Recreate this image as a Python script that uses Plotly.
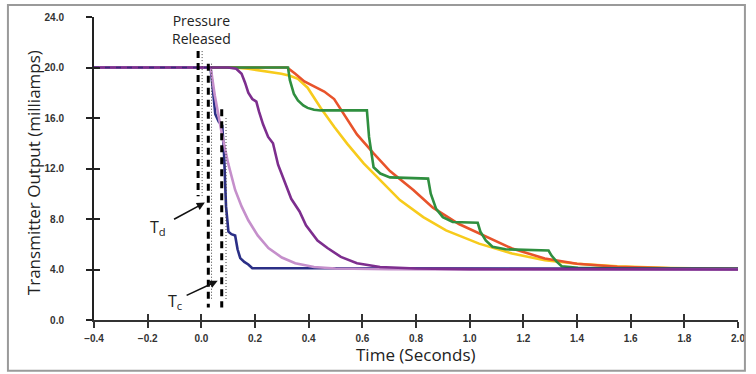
import plotly.graph_objects as go

# ---- data ----
blue_t = [-0.4, 0.034, 0.042, 0.052, 0.065, 0.078, 0.085, 0.092, 0.101, 0.112, 0.126, 0.135, 0.145, 0.16, 0.175, 0.19, 0.4, 1.0, 2.0]
blue_v = [20.0, 20.0, 18.5, 16.3, 15.7, 15.4, 13.0, 9.0, 7.0, 6.8, 6.7, 5.6, 4.9, 4.6, 4.4, 4.1, 4.1, 4.08, 4.05]

lpur_t = [-0.4, 0.035, 0.05, 0.077, 0.1, 0.126, 0.15, 0.175, 0.21, 0.25, 0.3, 0.35, 0.42, 0.5, 0.7, 1.0, 2.0]
lpur_v = [20.0, 20.0, 17.8, 14.7, 12.4, 10.3, 9.0, 7.9, 6.7, 5.7, 4.95, 4.5, 4.2, 4.08, 4.02, 4.0, 4.0]

dpur_t = [-0.4, 0.1, 0.13, 0.15, 0.163, 0.175, 0.19, 0.205, 0.215, 0.23, 0.249, 0.267, 0.286, 0.31, 0.335, 0.366, 0.39, 0.433, 0.47, 0.52, 0.58, 0.666, 0.8, 1.0, 2.0]
dpur_v = [20.0, 20.0, 19.9, 19.5, 18.8, 18.0, 17.5, 17.3, 16.5, 15.5, 14.5, 14.0, 12.3, 11.0, 9.6, 8.6, 7.5, 6.3, 5.7, 5.0, 4.5, 4.2, 4.08, 4.03, 4.0]

orng_t = [-0.4, 0.32, 0.35, 0.384, 0.42, 0.458, 0.495, 0.532, 0.58, 0.642, 0.703, 0.79, 0.863, 0.96, 1.06, 1.158, 1.28, 1.4, 1.55, 1.75, 2.0]
orng_v = [20.0, 20.0, 19.5, 18.9, 18.5, 18.1, 17.5, 16.3, 14.7, 13.2, 11.8, 10.3, 8.9, 7.6, 6.6, 5.66, 4.87, 4.45, 4.22, 4.1, 4.05]

yell_t = [-0.4, 0.12, 0.175, 0.24, 0.298, 0.33, 0.36, 0.396, 0.445, 0.495, 0.544, 0.605, 0.667, 0.74, 0.827, 0.912, 1.035, 1.158, 1.28, 1.4, 1.55, 1.75, 2.0]
yell_v = [20.0, 20.0, 19.9, 19.7, 19.5, 19.35, 19.1, 18.4, 16.8, 15.3, 13.95, 12.4, 11.05, 9.5, 8.15, 7.1, 6.05, 5.26, 4.74, 4.45, 4.25, 4.12, 4.05]

gren_t = [-0.4, 0.323, 0.33, 0.345, 0.36, 0.38, 0.396, 0.42, 0.445, 0.617, 0.625, 0.642, 0.667, 0.703, 0.845, 0.855, 0.875, 0.9, 0.937, 1.03, 1.04, 1.06, 1.085, 1.134, 1.294, 1.305, 1.325, 1.343, 1.404, 1.6, 2.0]
gren_v = [20.0, 20.0, 19.0, 17.9, 17.4, 17.0, 16.8, 16.65, 16.6, 16.6, 14.5, 12.1, 11.6, 11.3, 11.2, 10.0, 8.8, 8.15, 7.76, 7.7, 7.0, 6.3, 5.8, 5.6, 5.5, 5.1, 4.6, 4.26, 4.13, 4.08, 4.05]

# vertical marker lines (time, top value, bottom value)
thick_t = [-0.012, 0.026, 0.076]
thick_top = [21.3, 20.3, 16.7]
thick_bot = [9.8, 1.0, 1.0]
dot_t = [0.003, 0.038, 0.092]
dot_top = [21.3, 20.3, 16.0]
dot_bot = [9.8, 1.6, 1.6]

x_ticks = [-0.4, -0.2, 0.0, 0.2, 0.4, 0.6, 0.8, 1.0, 1.2, 1.4, 1.6, 1.8, 2.0]
y_ticks = [0, 4, 8, 12, 16, 20, 24]

fig = go.Figure()

series = [
    (yell_t, yell_v, "#f7cb1c"),
    (orng_t, orng_v, "#e8532b"),
    (gren_t, gren_v, "#2f8f3f"),
    (blue_t, blue_v, "#2b2f86"),
    (lpur_t, lpur_v, "#c58fcb"),
    (dpur_t, dpur_v, "#7d2e8e"),
]
for t, v, c in series:
    fig.add_trace(go.Scatter(x=t, y=v, mode="lines", line=dict(color=c, width=2.6),
                             hoverinfo="skip", showlegend=False))

# dashed-looking start of blue line over the purple
fig.add_trace(go.Scatter(x=blue_t[:2], y=blue_v[:2], mode="lines",
                         line=dict(color="#3a2a7a", width=1.6, dash="5px,6px"),
                         hoverinfo="skip", showlegend=False))

for t, a, b in zip(thick_t, thick_top, thick_bot):
    fig.add_trace(go.Scatter(x=[t, t], y=[a, b], mode="lines",
                             line=dict(color="black", width=3, dash="7px,5px"),
                             hoverinfo="skip", showlegend=False))
for t, a, b in zip(dot_t, dot_top, dot_bot):
    fig.add_trace(go.Scatter(x=[t, t], y=[a, b], mode="lines",
                             line=dict(color="#444444", width=1, dash="1px,2px"),
                             hoverinfo="skip", showlegend=False))

# overlay trace to create crossing ticks axes
fig.add_trace(go.Scatter(x=[None], y=[None], xaxis="x2", yaxis="y2", showlegend=False,
                         hoverinfo="skip"))

tickfont = dict(family="Liberation Sans, Arial, sans-serif", size=10, color="#333333", weight="bold")

fig.update_layout(
    width=756, height=374,
    margin=dict(l=94, r=11, t=16, b=54),
    paper_bgcolor="white", plot_bgcolor="white",
    xaxis=dict(range=[-0.4, 2.0], tickvals=x_ticks, tickformat=".1f", showgrid=False, zeroline=False,
               showline=True, linecolor="#333333", linewidth=1.5, ticks="outside", ticklen=6,
               tickwidth=1.5, tickcolor="#333333", tickfont=tickfont, ticklabelstandoff=2),
    yaxis=dict(range=[0, 24], tickvals=y_ticks, tickformat=".1f", showgrid=False, zeroline=False,
               showline=True, linecolor="#222222", linewidth=2, ticks="outside", ticklen=6,
               tickwidth=2, tickcolor="#222222", tickfont=tickfont, ticklabelstandoff=20),
    xaxis2=dict(range=[-0.4, 2.0], tickvals=x_ticks, overlaying="x", anchor="y2", side="bottom",
                showgrid=False, zeroline=False, showline=False, ticks="inside", ticklen=6,
                tickwidth=1.5, tickcolor="#333333", showticklabels=False),
    yaxis2=dict(range=[0, 24], tickvals=y_ticks, overlaying="y", anchor="x2", side="left",
                showgrid=False, zeroline=False, showline=False, ticks="inside", ticklen=6,
                tickwidth=2, tickcolor="#222222", showticklabels=False),
    shapes=[dict(type="rect", xref="paper", yref="paper",
                 x0=(7 - 94) / 651, x1=(752 - 94) / 651,
                 y0=(320 - 371) / 304, y1=(320 - 4) / 304,
                 line=dict(color="#9a9a9a", width=2), fillcolor="rgba(0,0,0,0)", layer="above")],
)

txtfont = dict(family="Open Sans, Noto Sans, sans-serif", color="#222222")
annos = [
    dict(text="Transmitter Output (milliamps)", xref="paper", yref="paper",
         x=(33 - 94) / 651, y=(320 - 172) / 304, textangle=-90, showarrow=False,
         font=dict(size=17, **txtfont), xanchor="center", yanchor="middle"),
    dict(text="Time (Seconds)", xref="paper", yref="paper",
         x=(420 - 94) / 651, y=(320 - 355) / 304, showarrow=False,
         font=dict(size=17, **txtfont), xanchor="center", yanchor="middle"),
    dict(text="Pressure<br>Released", xref="x", yref="y", x=0.0, y=23.0, showarrow=False,
         font=dict(size=14, **txtfont), xanchor="center", yanchor="middle"),
    dict(text="T<sub>d</sub>", xref="x", yref="y", x=0.013, y=9.3, axref="x", ayref="y",
         ax=-0.16, ay=7.3, showarrow=True, arrowhead=2, arrowsize=1, arrowwidth=1.6,
         arrowcolor="#111111", startstandoff=7, font=dict(size=16, **txtfont)),
    dict(text="T<sub>c</sub>", xref="x", yref="y", x=0.061, y=3.1, axref="x", ayref="y",
         ax=-0.10, ay=1.5, showarrow=True, arrowhead=2, arrowsize=1, arrowwidth=1.6,
         arrowcolor="#111111", startstandoff=4, font=dict(size=16, **txtfont)),
]
fig.update_layout(annotations=annos)

fig.write_html("out.html", config={"displayModeBar": False},
               post_script="document.body.style.margin='0';document.body.style.overflow='hidden';")
